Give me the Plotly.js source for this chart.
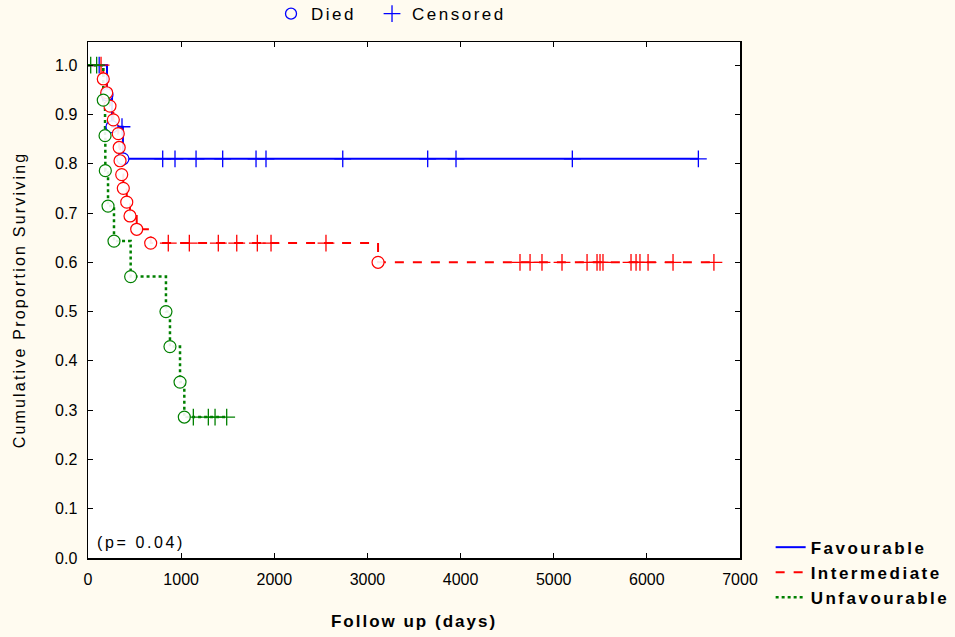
<!DOCTYPE html>
<html>
<head>
<meta charset="utf-8">
<script src="https://cdn.plot.ly/plotly-3.0.1.min.js"></script>
<style>
  html, body { margin: 0; padding: 0; background: #FFFBF0; }
  #chart { width: 955px; height: 637px; }
  .scrollbox { clip-path: none !important; }
  text.legendtext { letter-spacing: 2.4px; }
  text.annotation-text { letter-spacing: 2.6px; }
  text.xtitle { letter-spacing: 2px; }
  text.ytitle { letter-spacing: 2.2px; }
</style>
</head>
<body>
<div id="chart"></div>
<script>
// ---- Data (days, cumulative proportion surviving) ----
const groupNames = ["Favourable", "Intermediate", "Unfavourable"];

const favDeathDays = [204, 258, 375];
const favDeathSurv = [0.94, 0.875, 0.81];
const favCensDays  = [120, 365, 802, 934, 1160, 1446, 1804, 1911, 2735, 3647, 3951, 5200, 6553];

const intDeathDays = [164, 201, 236, 272, 325, 335, 344, 362, 379, 416, 451, 523, 673, 3114];
const intDeathSurv = [0.972, 0.944, 0.917, 0.889, 0.861, 0.833, 0.806, 0.778, 0.750, 0.722, 0.694, 0.667, 0.639, 0.600];
const intCensDays  = [140, 862, 1088, 1399, 1597, 1818, 1965, 2555,
                      4638, 4746, 4874, 5089, 5358, 5465, 5497, 5529, 5830, 5884, 5926, 6013, 6281, 6720];

const unfDeathDays = [164, 183, 186, 215, 279, 458, 837, 880, 988, 1034];
const unfDeathSurv = [0.929, 0.857, 0.786, 0.714, 0.643, 0.571, 0.500, 0.429, 0.357, 0.286];
const unfCensDays  = [29, 93, 1131, 1292, 1364, 1489];

const xTickVals = [0, 1000, 2000, 3000, 4000, 5000, 6000, 7000];
const yTickVals = [0.0, 0.1, 0.2, 0.3, 0.4, 0.5, 0.6, 0.7, 0.8, 0.9, 1.0];
const pValueText = "(p= 0.04)";

// ---- Styles ----
const colors = ["#0000FF", "#FF0000", "#008000"];
const dashes = ["solid", "dash", "dot"];
const widths = [2, 2, 2.5];

function survAt(t, dT, dS) {
  let s = 1;
  for (let i = 0; i < dT.length; i++) if (dT[i] <= t) s = dS[i];
  return s;
}

const groups = [
  [favDeathDays, favDeathSurv, favCensDays],
  [intDeathDays, intDeathSurv, intCensDays],
  [unfDeathDays, unfDeathSurv, unfCensDays]
];

const traces = [];
// step lines
groups.forEach((g, k) => {
  const [dT, dS, cT] = g;
  const end = Math.max(...cT);
  traces.push({
    type: "scatter", mode: "lines", name: groupNames[k],
    x: [0, ...dT, end], y: [1, ...dS, survAt(end, dT, dS)],
    line: { shape: "hv", color: colors[k], dash: dashes[k], width: widths[k] },
    legend: "legend", hoverinfo: "skip"
  });
});
// censored marks
groups.forEach((g, k) => {
  const [dT, dS, cT] = g;
  traces.push({
    type: "scatter", mode: "markers", showlegend: false,
    x: cT, y: cT.map(t => survAt(t, dT, dS)),
    marker: { symbol: "cross-thin", size: 12, line: { color: colors[k], width: 1.3 }, color: colors[k] },
    hoverinfo: "skip"
  });
});
// deaths
groups.forEach((g, k) => {
  const [dT, dS] = g;
  traces.push({
    type: "scatter", mode: "markers", showlegend: false,
    x: dT, y: dS,
    marker: { symbol: "circle", size: 12, color: "rgba(255,255,255,0.9)", line: { color: colors[k], width: 1.2 } },
    hoverinfo: "skip"
  });
});
// top legend entries
traces.push({
  type: "scatter", mode: "markers", name: "Died", x: [null], y: [null],
  marker: { symbol: "circle-open", size: 11, color: "#0000FF", line: { width: 1.3 } },
  legend: "legend2"
});
traces.push({
  type: "scatter", mode: "markers", name: "Censored", x: [null], y: [null],
  marker: { symbol: "cross-thin", size: 12, color: "#0000FF", line: { color: "#0000FF", width: 1.3 } },
  legend: "legend2"
});

const fontFam = "Liberation Sans, Arial, sans-serif";

const layout = {
  width: 955, height: 637,
  paper_bgcolor: "#FFFBF0",
  plot_bgcolor: "#FFFFFF",
  margin: { l: 88, r: 215, t: 42, b: 79, autoexpand: false },
  font: { family: fontFam, color: "#000000", size: 16 },
  xaxis: {
    range: [0, 7000], tickvals: xTickVals, ticktext: xTickVals.map(String),
    showgrid: false, zeroline: false, showline: true, linecolor: "#000", linewidth: 1.5,
    mirror: "ticks", ticks: "inside", ticklen: 5, tickcolor: "#000",
    tickfont: { size: 16 }, ticklabelstandoff: 6,
    title: { text: "<b>Follow up (days)</b>", font: { size: 17 }, standoff: 28 }
  },
  yaxis: {
    range: [0, 1.047], tickvals: yTickVals, ticktext: yTickVals.map(v => v.toFixed(1)),
    showgrid: false, zeroline: false, showline: true, linecolor: "#000", linewidth: 1.5,
    mirror: "ticks", ticks: "inside", ticklen: 5, tickcolor: "#000",
    tickfont: { size: 16 }, ticklabelstandoff: 6,
    title: { text: "Cumulative Proportion Surviving", font: { size: 16 }, standoff: 25 }
  },
  legend: {
    x: 1.047, xanchor: "left", y: 0.055, yanchor: "top",
    bgcolor: "rgba(0,0,0,0)", borderwidth: 0,
    font: { size: 17, family: fontFam, weight: "bold" },
    tracegroupgap: 0, itemwidth: 30
  },
  legend2: {
    orientation: "h", x: 0.2807, xanchor: "left", y: 1.054, yanchor: "middle",
    bgcolor: "rgba(0,0,0,0)", borderwidth: 0, entrywidth: 56,
    font: { size: 17, family: fontFam }
  },
  annotations: [{
    text: pValueText, xref: "paper", yref: "paper", x: 0.01, y: 0.01,
    xanchor: "left", yanchor: "bottom", showarrow: false, font: { size: 16 }
  }],
  showlegend: true
};

Plotly.newPlot("chart", traces, layout, { displayModeBar: false, staticPlot: true }).then(gd => {
  gd.querySelectorAll(".infolayer g[class*='legend'] text").forEach(t => {
    t.style.letterSpacing = "2.5px";
  });
});
</script>
</body>
</html>
